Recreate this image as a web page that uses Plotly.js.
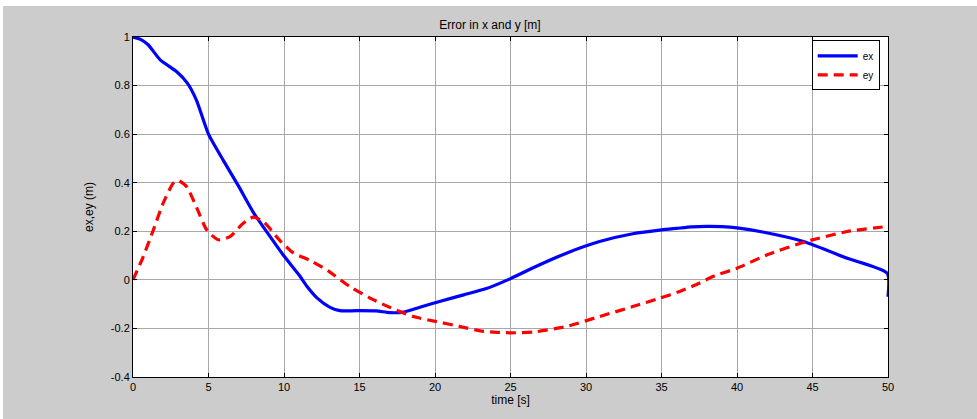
<!DOCTYPE html>
<html>
<head>
<meta charset="utf-8">
<script src="https://cdn.plot.ly/plotly-3.0.1.min.js"></script>
<style>
html,body{margin:0;padding:0;background:#ffffff;width:977px;height:419px;overflow:hidden;}
#chart{position:absolute;left:3px;top:6px;width:974px;height:413px;}
</style>
</head>
<body>
<div id="chart"></div>
<script>
const timeEx = [0,0.5,1,1.8,2.9,3.6,4.2,5,6,7,8,9,10,11,11.5,12.2,13.05,13.7,14.8,16.1,17,17.9,19,20.3,21.9,23.4,25,26.5,28.7,30.9,33.1,35,36,37,38,39,40,41.7,44.4,47.3,49.95,50];
const ex = [1,0.99,0.968,0.906,0.857,0.81,0.74,0.6,0.49,0.385,0.275,0.185,0.098,0.02,-0.025,-0.075,-0.113,-0.127,-0.127,-0.128,-0.135,-0.133,-0.113,-0.089,-0.062,-0.036,0.005,0.05,0.11,0.158,0.19,0.206,0.212,0.218,0.22,0.219,0.214,0.197,0.158,0.089,0.027,-0.07];

const timeEy = [0,0.68,1.35,2.0,2.67,3.0,3.55,4.2,4.88,5.65,6.42,7.3,7.97,8.63,9.73,10.6,11.8,12.9,14.37,15.7,17,18.56,20.1,21.66,23,24.1,25,26.5,28.7,30.9,33.1,34.9,36.2,37.5,38.4,40,42,44.6,47.3,50];
const ey = [0,0.096,0.206,0.316,0.398,0.409,0.384,0.30,0.206,0.165,0.178,0.233,0.258,0.24,0.162,0.112,0.078,0.038,-0.028,-0.075,-0.113,-0.151,-0.172,-0.192,-0.21,-0.216,-0.218,-0.215,-0.192,-0.151,-0.11,-0.075,-0.048,-0.014,0.014,0.048,0.103,0.158,0.199,0.22];

const xTickVals = [0,5,10,15,20,25,30,35,40,45,50];
const xTickText = ['0','5','10','15','20','25','30','35','40','45','50'];
const yTickVals = [-0.4,-0.2,0,0.2,0.4,0.6,0.8,1];
const yTickText = ['-0.4','-0.2','0','0.2','0.4','0.6','0.8','1'];

const traces = [
  {x: timeEx, y: ex, name: 'ex', type: 'scatter', mode: 'lines',
   line: {color: '#0000ff', width: 3.2, shape: 'spline', smoothing: 0.6}},
  {x: timeEy, y: ey, name: 'ey', type: 'scatter', mode: 'lines',
   line: {color: '#ff0000', width: 3.2, dash: '10px,6px', shape: 'spline', smoothing: 0.6}}
];

const axisCommon = {
  showline: true, linecolor: '#000000', linewidth: 1, mirror: 'ticks',
  ticks: 'inside', ticklen: 4, tickcolor: '#000000',
  showgrid: true, gridcolor: '#a8a8a8', gridwidth: 1,
  zeroline: false, tickfont: {family: 'Liberation Sans, Arial, sans-serif', size: 11, color: '#000000'}
};

const layout = {
  width: 974, height: 413,
  paper_bgcolor: '#cccccc', plot_bgcolor: '#ffffff',
  margin: {l: 130, r: 89, t: 31, b: 42},
  showlegend: true,
  title: {text: 'Error in x and y [m]', x: 0.5, xanchor: 'center', y: 0.954, yanchor: 'middle',
          font: {family: 'Liberation Sans, Arial, sans-serif', size: 12, color: '#000000'}},
  xaxis: Object.assign({}, axisCommon, {
    range: [0, 50], tickmode: 'array', tickvals: xTickVals, ticktext: xTickText,
    title: {text: 'time [s]', standoff: 3, font: {family: 'Liberation Sans, Arial, sans-serif', size: 12, color: '#000000'}}
  }),
  yaxis: Object.assign({}, axisCommon, {
    range: [-0.4, 1], tickmode: 'array', tickvals: yTickVals, ticktext: yTickText,
    title: {text: 'ex,ey (m)', standoff: 14, font: {family: 'Liberation Sans, Arial, sans-serif', size: 12, color: '#000000'}}
  }),
  legend: {x: 0.989, xanchor: 'right', y: 0.99, yanchor: 'top',
           bgcolor: '#ffffff', bordercolor: '#000000', borderwidth: 1,
           font: {family: 'Liberation Sans, Arial, sans-serif', size: 10, color: '#000000'},
           tracegroupgap: 0, itemwidth: 40}
};

Plotly.newPlot('chart', traces, layout, {displayModeBar: false, staticPlot: true});
</script>
</body>
</html>
